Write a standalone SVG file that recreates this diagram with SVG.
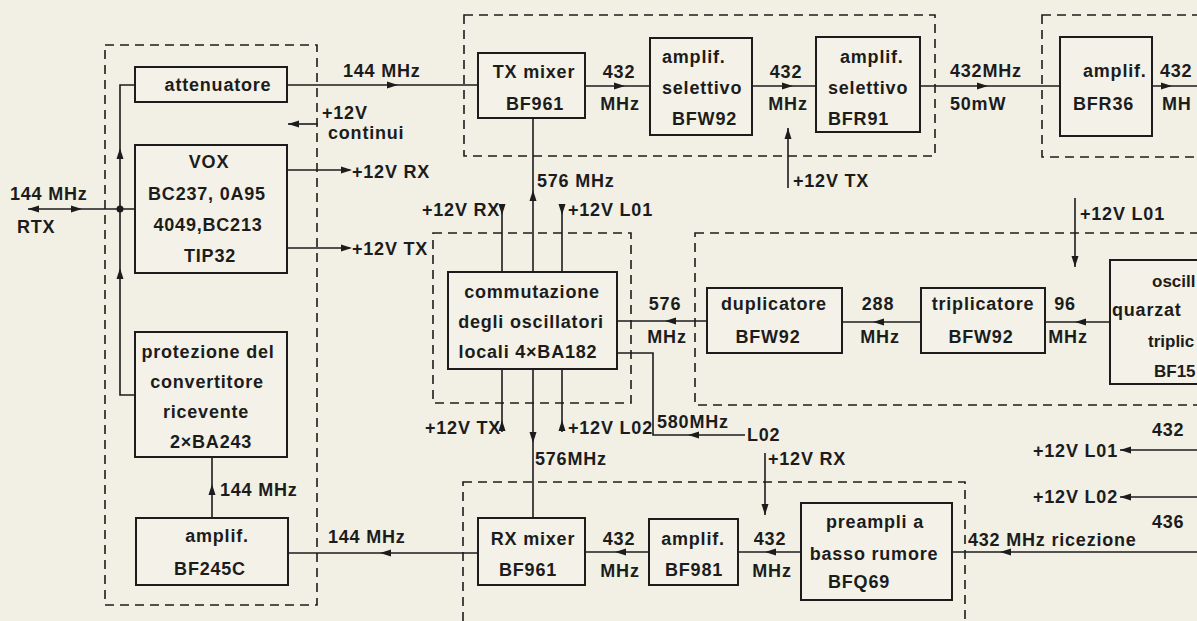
<svg xmlns="http://www.w3.org/2000/svg" xmlns:xlink="http://www.w3.org/1999/xlink" width="1197" height="621" viewBox="0 0 1197 621">
<style>
.t{font-family:"Liberation Sans",Arial,sans-serif;font-weight:bold;font-size:18px;letter-spacing:0.8px;fill:#1c1c1c}
.s{font-size:17px;letter-spacing:0}
.m{text-anchor:middle}
.b{fill:#f4f2e8;stroke:#1c1c1c;stroke-width:2}
.d{fill:none;stroke:#1c1c1c;stroke-width:1.6;stroke-dasharray:9 6}
.c{fill:none;stroke:#1c1c1c;stroke-width:1.6}
.a{fill:#1c1c1c}
</style>
<defs>
<path id="ah" class="a" d="M0 0 L-11 -3.5 L-11 3.5 Z"/>
</defs>
<rect width="1197" height="621" fill="#f2f0e5"/>

<g id="frames">
<rect class="d" x="105" y="45" width="212" height="560"/>
<rect class="d" x="464" y="15" width="471" height="141"/>
<rect class="d" x="1042" y="15" width="170" height="142"/>
<rect class="d" x="433" y="233" width="198" height="170"/>
<rect class="d" x="695" y="233" width="520" height="172"/>
<rect class="d" x="463" y="482" width="502" height="160"/>
</g>

<g id="connectors">
<path class="c" d="M135 209 H28"/>
<circle cx="120" cy="209" r="3.5" class="a"/>
<path class="c" d="M135 85 H120 V395 H135"/>
<path class="c" d="M287 85 H478"/>
<path class="c" d="M318 124 H288"/>
<path class="c" d="M287 170 H350"/>
<path class="c" d="M287 248 H350"/>
<path class="c" d="M212 457 V518"/>
<path class="c" d="M478 553 H288"/>
<path class="c" d="M585 86 H650"/>
<path class="c" d="M752 86 H816"/>
<path class="c" d="M788 188 V128"/>
<path class="c" d="M920 86 H1060"/>
<path class="c" d="M1152 86 H1197"/>
<path class="c" d="M533 118 V272"/>
<path class="c" d="M502 205 V272"/>
<path class="c" d="M562 205 V272"/>
<path class="c" d="M502 369 V432"/>
<path class="c" d="M562 369 V432"/>
<path class="c" d="M533 369 V518"/>
<path class="c" d="M707 321 H617"/>
<path class="c" d="M745 435 H653 V353 H617"/>
<path class="c" d="M921 322 H842"/>
<path class="c" d="M1110 322 H1045"/>
<path class="c" d="M1075 198 V267"/>
<path class="c" d="M1197 450 H1120"/>
<path class="c" d="M1197 497 H1120"/>
<path class="c" d="M1197 552 H952"/>
<path class="c" d="M801 552 H738"/>
<path class="c" d="M649 552 H585"/>
<path class="c" d="M765 453 V515"/>

<use xlink:href="#ah" transform="translate(28,209) rotate(180)"/>
<use xlink:href="#ah" transform="translate(82,209)"/>
<use xlink:href="#ah" transform="translate(120,148) rotate(-90)"/>
<use xlink:href="#ah" transform="translate(120,268) rotate(-90)"/>
<use xlink:href="#ah" transform="translate(398,85)"/>
<use xlink:href="#ah" transform="translate(288,124) rotate(180)"/>
<use xlink:href="#ah" transform="translate(352,170)"/>
<use xlink:href="#ah" transform="translate(352,248)"/>
<use xlink:href="#ah" transform="translate(212,484) rotate(-90)"/>
<use xlink:href="#ah" transform="translate(380,553) rotate(180)"/>
<use xlink:href="#ah" transform="translate(625,86)"/>
<use xlink:href="#ah" transform="translate(793,86)"/>
<use xlink:href="#ah" transform="translate(788,128) rotate(-90)"/>
<use xlink:href="#ah" transform="translate(988,86)"/>
<use xlink:href="#ah" transform="translate(1172,86)"/>
<use xlink:href="#ah" transform="translate(533,190) rotate(-90)"/>
<use xlink:href="#ah" transform="translate(502,215) rotate(90)"/>
<use xlink:href="#ah" transform="translate(562,215) rotate(90)"/>
<use xlink:href="#ah" transform="translate(502,420) rotate(-90)"/>
<use xlink:href="#ah" transform="translate(562,420) rotate(-90)"/>
<use xlink:href="#ah" transform="translate(533,443) rotate(90)"/>
<use xlink:href="#ah" transform="translate(665,321) rotate(180)"/>
<use xlink:href="#ah" transform="translate(688,435) rotate(180)"/>
<use xlink:href="#ah" transform="translate(873,322) rotate(180)"/>
<use xlink:href="#ah" transform="translate(1075,322) rotate(180)"/>
<use xlink:href="#ah" transform="translate(1075,267) rotate(90)"/>
<use xlink:href="#ah" transform="translate(1120,450) rotate(180)"/>
<use xlink:href="#ah" transform="translate(1120,497) rotate(180)"/>
<use xlink:href="#ah" transform="translate(1000,552) rotate(180)"/>
<use xlink:href="#ah" transform="translate(765,552) rotate(180)"/>
<use xlink:href="#ah" transform="translate(615,552) rotate(180)"/>
<use xlink:href="#ah" transform="translate(765,515) rotate(90)"/>
</g>

<g id="labels">
<text class="t" x="10" y="200">144 MHz</text>
<text class="t" x="17" y="233">RTX</text>
<text class="t" x="343" y="77">144 MHz</text>
<text class="t" x="322" y="119">+12V</text>
<text class="t" x="328" y="139">continui</text>
<text class="t" x="352" y="178">+12V RX</text>
<text class="t" x="352" y="255">+12V TX</text>
<text class="t" x="220" y="496">144 MHz</text>
<text class="t" x="328" y="543">144  MHz</text>
<text class="t m" x="619" y="78">432</text>
<text class="t m" x="620" y="110">MHz</text>
<text class="t m" x="786" y="78">432</text>
<text class="t m" x="788" y="110">MHz</text>
<text class="t" x="793" y="187">+12V TX</text>
<text class="t" x="950" y="77">432MHz</text>
<text class="t" x="950" y="110">50mW</text>
<text class="t" x="1160" y="77">432</text>
<text class="t" x="1162" y="110">MH</text>
<text class="t" x="537" y="187">576 MHz</text>
<text class="t" x="422" y="216">+12V RX</text>
<text class="t" x="568" y="216">+12V L01</text>
<text class="t" x="1080" y="220">+12V L01</text>
<text class="t m" x="665" y="310">576</text>
<text class="t m" x="667" y="343">MHz</text>
<text class="t m" x="878" y="310">288</text>
<text class="t m" x="880" y="343">MHz</text>
<text class="t m" x="1065" y="310">96</text>
<text class="t m" x="1068" y="343">MHz</text>
<text class="t" x="425" y="434">+12V TX</text>
<text class="t" x="568" y="434">+12V L02</text>
<text class="t" x="657" y="428">580MHz</text>
<text class="t" x="747" y="441">L02</text>
<text class="t" x="535" y="465">576MHz</text>
<text class="t" x="768" y="465">+12V RX</text>
<text class="t m" x="619" y="545">432</text>
<text class="t m" x="620" y="577">MHz</text>
<text class="t m" x="770" y="545">432</text>
<text class="t m" x="772" y="577">MHz</text>
<text class="t" x="968" y="546">432 MHz  ricezione</text>
<text class="t" x="1152" y="436">432</text>
<text class="t" x="1033" y="457">+12V L01</text>
<text class="t" x="1033" y="503">+12V L02</text>
<text class="t" x="1152" y="528">436</text>
</g>

<g id="n-attenuatore"><rect class="b" x="135" y="67" width="152" height="35"/><text class="t m" x="218" y="91">attenuatore</text></g>
<g id="n-vox"><rect class="b" x="135" y="145" width="152" height="128"/>
<text class="t m" x="209" y="168">VOX</text>
<text class="t m" x="207" y="200">BC237,  0A95</text>
<text class="t m" x="208" y="231">4049,BC213</text>
<text class="t m" x="210" y="262">TIP32</text></g>
<g id="n-protezione"><rect class="b" x="135" y="332" width="152" height="125"/>
<text class="t m" x="208" y="358">protezione del</text>
<text class="t m" x="207" y="388">convertitore</text>
<text class="t m" x="206" y="418">ricevente</text>
<text class="t m" x="211" y="448">2×BA243</text></g>
<g id="n-bf245c"><rect class="b" x="136" y="518" width="152" height="67"/>
<text class="t m" x="217" y="542">amplif.</text>
<text class="t m" x="210" y="575">BF245C</text></g>
<g id="n-txmixer"><rect class="b" x="478" y="53" width="107" height="65"/>
<text class="t m" x="534" y="78">TX mixer</text>
<text class="t m" x="535" y="110">BF961</text></g>
<g id="n-bfw92a"><rect class="b" x="650" y="38" width="102" height="97"/>
<text class="t" x="662" y="63">amplif.</text>
<text class="t" x="662" y="94">selettivo</text>
<text class="t" x="672" y="125">BFW92</text></g>
<g id="n-bfr91"><rect class="b" x="816" y="37" width="104" height="95"/>
<text class="t" x="840" y="63">amplif.</text>
<text class="t" x="828" y="94">selettivo</text>
<text class="t" x="828" y="125">BFR91</text></g>
<g id="n-bfr36"><rect class="b" x="1060" y="37" width="92" height="99"/>
<text class="t" x="1083" y="77">amplif.</text>
<text class="t" x="1073" y="110">BFR36</text></g>
<g id="n-commutazione"><rect class="b" x="448" y="272" width="169" height="97"/>
<text class="t m" x="532" y="298">commutazione</text>
<text class="t m" x="531" y="328">degli oscillatori</text>
<text class="t m" x="528" y="358">locali 4×BA182</text></g>
<g id="n-duplicatore"><rect class="b" x="707" y="288" width="135" height="65"/>
<text class="t m" x="774" y="310">duplicatore</text>
<text class="t m" x="768" y="343">BFW92</text></g>
<g id="n-triplicatore"><rect class="b" x="921" y="288" width="124" height="65"/>
<text class="t m" x="983" y="310">triplicatore</text>
<text class="t m" x="981" y="343">BFW92</text></g>
<g id="n-oscill"><rect class="b" x="1110" y="260" width="110" height="124"/>
<text class="t s" x="1152" y="287">oscill</text>
<text class="t" x="1112" y="316">quarzat</text>
<text class="t s" x="1148" y="347">triplic</text>
<text class="t s" x="1154" y="377">BF15</text></g>
<g id="n-rxmixer"><rect class="b" x="478" y="518" width="107" height="67"/>
<text class="t m" x="533" y="545">RX mixer</text>
<text class="t m" x="528" y="576">BF961</text></g>
<g id="n-bf981"><rect class="b" x="649" y="519" width="89" height="66"/>
<text class="t m" x="693" y="545">amplif.</text>
<text class="t m" x="694" y="576">BF981</text></g>
<g id="n-preampli"><rect class="b" x="801" y="503" width="151" height="97"/>
<text class="t m" x="875" y="528">preampli a</text>
<text class="t m" x="874" y="560">basso rumore</text>
<text class="t" x="828" y="588">BFQ69</text></g>
</svg>
